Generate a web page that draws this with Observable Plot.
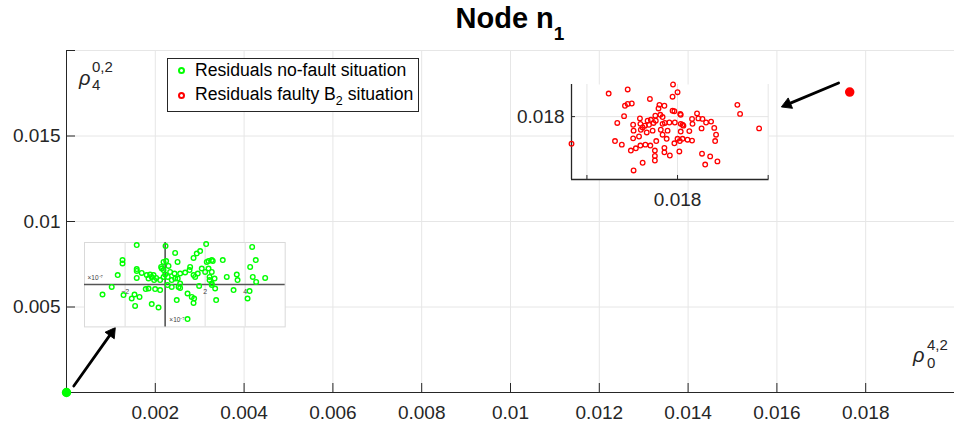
<!DOCTYPE html>
<html>
<head>
<meta charset="utf-8">
<script src="https://cdn.jsdelivr.net/npm/d3@7"></script>
<script src="https://cdn.jsdelivr.net/npm/@observablehq/plot@0.6"></script>
<style>
  html, body { margin: 0; padding: 0; background: white; overflow: hidden; }
  #wrap { position: relative; width: 954px; height: 430px; font-family: "Liberation Sans", Arial, Helvetica, sans-serif; color: #262626; }
  .abs { position: absolute; line-height: 1; white-space: nowrap; }
</style>
</head>
<body>
<div id="wrap"></div>
<script>
// ---------------- data ----------------
const mainXTicks = [0.002, 0.004, 0.006, 0.008, 0.01, 0.012, 0.014, 0.016, 0.018];
const mainXGrid  = [0.002, 0.004, 0.006, 0.008, 0.01, 0.012, 0.014, 0.016, 0.018, 0.02];
const mainYTicks = [0.005, 0.01, 0.015];
const mainYGrid  = [0.005, 0.01, 0.015, 0.02];
const mainDomain = [0, 0.02];

// cluster centres (rho_0^{4,2}, rho_4^{0,2})
const noFaultCenter = [0, 0];
const faultyCenter  = [0.01764, 0.01757];

// arrows from each cluster to its zoomed inset
const arrowX1 = [0.000164, 0.01739];
const arrowY1 = [0.00038, 0.0181];
const arrowX2 = [0.0011, 0.0161];
const arrowY2 = [0.0038, 0.0167];

// no-fault residuals, zoomed (units of 1e-7)
const noFaultDx = [-1.42,0.02,2.05,4.35,-2.13,-2.13,0.50,1.58,1.75,1.42,0.62,2.33,2.17,2.88,4.53,
  -2.37,-1.42,-1.42,-1.17,-0.92,-0.75,-0.58,-0.20,-0.08,0.05,-0.17,-0.08,0.17,0.25,0.47,0.75,1.00,1.25,1.22,1.42,1.50,1.63,1.83,2.00,2.08,2.17,2.38,2.33,2.22,3.08,3.58,3.62,4.25,4.38,5.00,4.55,
  -1.42,-0.83,-0.67,-0.55,-0.45,-0.25,-0.08,0.00,0.13,0.33,0.50,0.63,0.75,0.12,0.33,0.67,0.75,1.70,2.22,2.33,2.47,2.50,2.33,
  -2.67,-3.13,-2.08,-1.53,-1.28,-1.67,-1.50,-0.97,-0.83,-0.50,-0.25,-0.67,-0.33,0.58,1.12,1.33,1.45,1.42,2.55,3.42,4.22,4.12,1.12];
const noFaultDy = [1.97,1.92,2.02,1.88,1.22,1.05,1.58,1.55,1.67,1.33,1.13,1.22,1.17,1.22,1.22,
  0.47,0.77,0.68,0.58,0.47,0.50,0.47,0.88,1.13,1.17,0.80,0.72,0.93,0.63,0.55,0.55,0.60,0.88,0.72,0.47,0.38,0.55,0.80,0.63,1.13,0.80,1.17,0.63,0.38,0.38,0.50,0.22,0.88,0.38,0.33,0.13,
  0.33,0.30,0.38,0.22,0.33,0.22,0.38,0.50,0.38,0.22,0.30,0.30,0.05,-0.03,-0.12,-0.12,-0.17,-0.07,0.22,0.05,0.30,-0.20,-0.03,
  -0.12,-0.50,-0.53,-0.50,-0.62,-0.70,-1.07,-0.23,-0.20,-0.23,-0.28,-0.98,-1.15,-0.78,-0.45,-0.62,-0.70,-0.92,-0.78,-0.28,-0.33,-0.70,-1.73];
const noFaultInsetX = [-4.03, 6.0];
const noFaultInsetY = [-2.12, 2.10];
const noFaultGridX = [-2, 2, 4];
const noFaultTickLabels = ["\u22122", "2", "4"];
const exponentLabel = "\u00d710\u207b\u2077";

// faulty B2 residuals, zoomed (relative units around 0.018)
const faultyDx = [-0.10,-1.52,-1.10,0.00,-0.11,-0.61,-1.01,-1.10,-1.16,-0.40,-0.29,-0.42,1.32,1.38,
  -1.18,-0.83,-0.59,-0.49,-0.38,-0.33,-0.66,-0.48,-0.11,-0.07,0.06,0.07,0.43,0.32,0.46,0.55,0.63,0.74,-1.33,-0.98,-0.82,-0.77,-0.72,-0.63,-0.53,-0.33,-0.28,-0.18,-0.06,0.07,0.11,0.13,0.33,0.81,1.80,
  -0.97,-0.81,-0.68,-0.55,-0.37,-0.22,-0.33,-0.24,0.07,0.26,0.53,0.85,0.83,
  -2.34,-1.38,-1.23,-0.98,-0.85,-0.92,-1.03,-0.82,-0.71,-0.60,-0.47,-0.50,-0.29,-0.29,-0.07,0.00,0.05,0.11,0.22,0.32,0.04,-0.17,0.54,0.72,-0.50,-0.50,-0.77,-0.97,0.61,0.88];
const faultyDy = [0.71,0.51,0.60,0.54,0.44,0.39,0.29,0.28,0.24,0.26,0.24,0.18,0.26,0.06,
  0.01,-0.04,-0.07,0.02,0.04,-0.01,-0.09,-0.09,0.13,0.12,0.06,0.04,0.07,-0.05,-0.04,-0.05,-0.13,-0.11,-0.14,-0.18,-0.16,-0.24,-0.20,-0.18,-0.14,-0.16,-0.14,-0.13,-0.13,-0.16,-0.18,-0.20,-0.16,-0.25,-0.26,
  -0.31,-0.29,-0.35,-0.31,-0.29,-0.31,-0.40,-0.49,-0.33,-0.32,-0.26,-0.40,-0.54,
  -0.60,-0.54,-0.62,-0.48,-0.44,-0.70,-0.75,-0.64,-0.62,-0.64,-0.54,-0.75,-0.69,-0.79,-0.59,-0.49,-0.54,-0.49,-0.51,-0.53,-0.77,-0.86,-0.82,-0.88,-0.87,-0.97,-1.02,-1.19,-1.06,-0.99];
const faultyInsetX = [-2.34, 2.02];
const faultyInsetY = [-1.39, 0.71];
const faultyGridX = [-2, 0, 2];
const faultyGridY = [0];
const faultyTickLabel = "0.018";

const titleText = "Node n";
const titleSub = "1";
const legendItems = ["Residuals no-fault situation", "Residuals faulty B", "2", " situation"];

// ---------------- styles ----------------
const GREEN = "#00ff00", RED = "#ff0000", AX = "#262626", GRID = "#e6e6e6";
const FONT = "'Liberation Sans', Arial, Helvetica, sans-serif";
const wrap = document.getElementById("wrap");

function place(node, left, top) {
  const d = document.createElement("div");
  d.style.position = "absolute"; d.style.left = left + "px"; d.style.top = top + "px";
  d.appendChild(node); wrap.appendChild(d); return d;
}
function label(html, left, baseline, size, extra = "") {
  const d = document.createElement("div");
  d.className = "abs";
  d.style.cssText += `left:${left}px;top:${baseline - 0.8465 * size}px;font-size:${size}px;${extra}`;
  d.innerHTML = html; wrap.appendChild(d); return d;
}

// ---------------- main plot ----------------
const W = 954, H = 430, mL = 66, mR = 0, mT = 50, mB = 38;
const fH = H - mT - mB, fW = W - mL - mR;
const fmt = d => String(d);
const span = mainDomain[1] - mainDomain[0];
const headR = 4.2, tipOff = 1.555 * headR;
const arrows = arrowX1.map((x1, i) => {
  const dxp = (arrowX2[i] - x1) * fW / span;
  const dyp = -(arrowY2[i] - arrowY1[i]) * fH / span;
  const len = Math.hypot(dxp, dyp);
  const ux = dxp / len, uy = dyp / len;
  return {x1, y1: arrowY1[i], x2: arrowX2[i], y2: arrowY2[i],
          angle: Math.atan2(ux, -uy) * 180 / Math.PI, ox: -ux * tipOff, oy: -uy * tipOff};
});
const centers = [
  {x: noFaultCenter[0], y: noFaultCenter[1], c: GREEN},
  {x: faultyCenter[0], y: faultyCenter[1], c: RED}
];

const main = Plot.plot({
  width: W, height: H,
  marginLeft: mL, marginRight: mR, marginTop: mT, marginBottom: mB,
  style: {fontFamily: FONT, fontSize: "19px", color: AX, background: "white", overflow: "visible"},
  x: {domain: mainDomain},
  y: {domain: mainDomain},
  marks: [
    Plot.gridX({ticks: mainXGrid, stroke: GRID, strokeOpacity: 1}),
    Plot.gridY({ticks: mainYGrid, stroke: GRID, strokeOpacity: 1}),
    Plot.ruleX(mainXGrid, {x: d => d, insetTop: fH - 9, stroke: AX}),
    Plot.ruleY(mainYGrid, {y: d => d, insetRight: fW - 9, stroke: AX}),
    Plot.ruleX([mainDomain[0]], {stroke: AX}),
    Plot.ruleY([mainDomain[0]], {stroke: AX}),
    Plot.axisX({ticks: mainXTicks, tickSize: 0, tickPadding: 13, tickFormat: fmt, fontSize: 19, color: AX}),
    Plot.axisY({ticks: mainYTicks, tickSize: 0, tickPadding: 6, tickFormat: fmt, fontSize: 19, color: AX}),
    Plot.arrow(arrows, {x1: "x1", y1: "y1", x2: "x2", y2: "y2", stroke: "black", strokeWidth: 2.8, headLength: 0, insetEnd: 6}),
    ...arrows.map(a => Plot.dot([a], {x: "x2", y: "y2", symbol: "triangle", r: headR, rotate: a.angle, dx: a.ox, dy: a.oy, fill: "black", stroke: "black", strokeWidth: 0.8})),
    Plot.dot(centers, {x: "x", y: "y", r: 4, fill: d => d.c, stroke: d => d.c})
  ]
});
place(main, 0, 0);

// ---------------- inset: no-fault (bottom-left) ----------------
const nfLeft = 84.3, nfTop = 242.3, nfW = 200.7, nfH = 84.4, nfM = 5;
const nfIdx = noFaultDx.map((_, i) => i);
const insetNF = Plot.plot({
  width: nfW + 2 * nfM, height: nfH + 2 * nfM, margin: nfM,
  style: {fontFamily: FONT, color: "#404040", background: "transparent", overflow: "visible"},
  x: {domain: noFaultInsetX, axis: null},
  y: {domain: noFaultInsetY, axis: null},
  marks: [
    Plot.frame({fill: "white", stroke: "#d9d9d9"}),
    Plot.gridX({ticks: noFaultGridX, stroke: "#dedede", strokeOpacity: 1}),
    Plot.ruleX([0], {stroke: "#555", strokeWidth: 1.6}),
    Plot.ruleY([0], {stroke: "#555", strokeWidth: 1.6}),
    Plot.text(noFaultGridX, {x: d => d, y: () => 0, text: (d, i) => noFaultTickLabels[i], dy: 7, fontSize: 7, fill: "#404040"}),
    Plot.text([exponentLabel], {frameAnchor: "left", text: d => d, dx: 3, dy: -7, textAnchor: "start", fontSize: 6.5, fill: "#404040"}),
    Plot.text([exponentLabel], {frameAnchor: "bottom", text: d => d, dx: -15.5, dy: -5, textAnchor: "start", fontSize: 6.5, fill: "#404040"}),
    Plot.dot(nfIdx, {x: i => noFaultDx[i], y: i => noFaultDy[i], r: 2.3, stroke: GREEN, strokeWidth: 1.4, fill: "none"})
  ]
});
place(insetNF, nfLeft - nfM, nfTop - nfM);

// ---------------- inset: faulty B2 (top-right) ----------------
const fLeft = 570.7, fTop = 84, fW2 = 197.6, fH2 = 95;
const fmL = 62, fmR = 6, fmT = 6, fmB = 34;
const fIdx = faultyDx.map((_, i) => i);
const insetF = Plot.plot({
  width: fW2 + fmL + fmR, height: fH2 + fmT + fmB,
  marginLeft: fmL, marginRight: fmR, marginTop: fmT, marginBottom: fmB,
  style: {fontFamily: FONT, color: AX, background: "transparent", overflow: "visible"},
  x: {domain: faultyInsetX},
  y: {domain: faultyInsetY},
  marks: [
    Plot.frame({fill: "white", stroke: null}),
    Plot.gridX({ticks: faultyGridX, stroke: GRID, strokeOpacity: 1}),
    Plot.gridY({ticks: faultyGridY, stroke: GRID, strokeOpacity: 1}),
    Plot.ruleX(faultyGridX, {x: d => d, insetTop: fH2 - 4, stroke: AX}),
    Plot.ruleY(faultyGridY, {y: d => d, insetRight: fW2 - 4, stroke: AX}),
    Plot.ruleX([faultyInsetX[0]], {stroke: AX, strokeWidth: 1.3}),
    Plot.ruleY([faultyInsetY[0]], {stroke: AX, strokeWidth: 1.3}),
    Plot.axisX({ticks: [0], tickSize: 0, tickPadding: 13, tickFormat: () => faultyTickLabel, fontSize: 19, color: AX}),
    Plot.axisY({ticks: faultyGridY, tickSize: 0, tickPadding: 7, tickFormat: () => faultyTickLabel, fontSize: 19, color: AX}),
    Plot.dot(fIdx, {x: i => faultyDx[i], y: i => faultyDy[i], r: 2.3, stroke: RED, strokeWidth: 1.3, fill: "none"})
  ]
});
place(insetF, fLeft - fmL, fTop - fmT);

// ---------------- title ----------------
const t = document.createElement("div");
t.className = "abs";
t.style.cssText += `left:62px;width:896px;text-align:center;top:${29 - 0.8465 * 29}px;font-size:29px;font-weight:bold;color:#000;`;
t.innerHTML = `${titleText}<span style="font-size:19px;position:relative;top:12px;">${titleSub}</span>`;
wrap.appendChild(t);

// ---------------- axis labels (rho) ----------------
label("\u03c1", 79, 85, 20, "font-style:italic;");
label("0,2", 92, 72, 15);
label("4", 92, 90, 15);
label("\u03c1", 913, 362, 20, "font-style:italic;");
label("4,2", 927, 350, 15);
label("0", 927, 368, 15);

// ---------------- legend ----------------
const lg = document.createElement("div");
lg.style.cssText = "position:absolute;left:166.7px;top:58px;width:252.3px;height:54px;box-sizing:border-box;border:1px solid #262626;background:white;";
wrap.appendChild(lg);
function marker(cx, cy, color) {
  const m = document.createElement("div");
  m.style.cssText = `position:absolute;left:${cx - 3.5}px;top:${cy - 3.5}px;width:7px;height:7px;box-sizing:border-box;border-radius:50%;border:2.2px solid ${color};background:white;`;
  wrap.appendChild(m);
}
marker(181.7, 70.7, GREEN);
marker(181.7, 95.7, RED);
label(legendItems[0], 195, 77, 17.6, "color:#000;");
label(`${legendItems[1]}<span style="font-size:12.5px;position:relative;top:5px;">${legendItems[2]}</span>${legendItems[3]}`, 195, 101, 17.6, "color:#000;");
</script>
</body>
</html>
